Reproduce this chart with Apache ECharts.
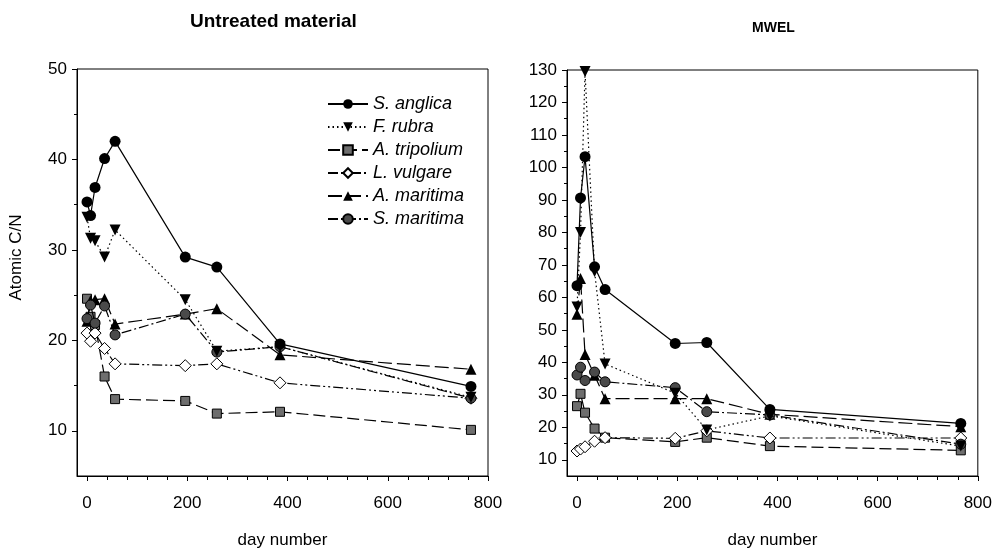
<!DOCTYPE html>
<html lang="en">
<head>
<meta charset="UTF-8">
<title>Atomic C/N</title>
<script src="https://cdn.jsdelivr.net/npm/echarts@6/dist/echarts.min.js"></script>
<style>
    html, body { margin: 0; padding: 0; background: #fff; }
    #chart { width: 995px; height: 554px; }
</style>
</head>
<body>
<div id="chart"></div>
<script>
    // sampling days (x values)
    const days = [0, 7, 16, 35, 56, 196, 259, 385, 766];

    const speciesNames = ['S. anglica', 'F. rubra', 'A. tripolium', 'L. vulgare', 'A. maritima', 'S. maritima'];

    // untreated material, atomic C/N
    const untreatedSAnglica = [35.3, 33.8, 36.9, 40.1, 42.0, 29.2, 28.1, 19.6, 14.9];
    const untreatedFRubra = [33.6, 31.3, 31.0, 29.2, 32.2, 24.5, 18.8, 19.3, 13.7];
    const untreatedATripolium = [24.6, 22.6, 21.7, 16.0, 13.5, 13.3, 11.9, 12.1, 10.1];
    const untreatedLVulgare = [20.8, 19.9, 20.8, 19.1, 17.4, 17.2, 17.4, 15.3, 13.6];
    const untreatedAMaritima = [22.1, 24.4, 24.5, 24.6, 21.8, 22.9, 23.5, 18.4, 16.8];
    const untreatedSMaritima = [22.4, 23.9, 21.9, 23.8, 20.6, 22.9, 18.7, 19.3, 13.6];

    // MWEL, atomic C/N
    const mwelSAnglica = [63.6, 90.6, 103.3, 69.4, 62.4, 45.8, 46.1, 25.5, 21.2];
    const mwelFRubra = [57.0, 80.0, 129.5, 68.0, 39.5, 30.5, 19.2, 23.5, 14.2];
    const mwelATripolium = [26.5, 30.3, 24.5, 19.6, 16.8, 15.5, 16.8, 14.2, 12.9];
    const mwelLVulgare = [12.7, 13.3, 14.0, 15.7, 16.8, 16.6, 18.9, 16.7, 16.7];
    const mwelAMaritima = [54.8, 65.8, 42.4, 36.0, 28.8, 28.8, 28.8, 24.0, 20.2];
    const mwelSMaritima = [36.1, 38.5, 34.4, 37.0, 34.0, 32.2, 24.8, 23.8, 14.8];

    const xTicks = [0, 200, 400, 600, 800];
    const xMinorTicks = [40, 80, 120, 160, 240, 280, 320, 360, 440, 480, 520, 560, 640, 680, 720, 760];
    const leftYTicks = [10, 20, 30, 40, 50];
    const leftYMinor = [15, 25, 35, 45];
    const rightYTicks = [10, 20, 30, 40, 50, 60, 70, 80, 90, 100, 110, 120, 130];
    const rightYMinor = [15, 25, 35, 45, 55, 65, 75, 85, 95, 105, 115, 125];

    const font = 'Liberation Sans, Arial, Helvetica, sans-serif';

    const looks = {
        'S. anglica': {symbol: 'circle', size: 11, fill: '#000', border: 0, dash: 'solid', z: 8},
        'F. rubra': {symbol: 'triangle', size: 11, rotate: 180, fill: '#000', border: 0, dash: [1.5, 3], z: 7},
        'A. tripolium': {symbol: 'rect', size: 9, fill: '#6e6e6e', border: 1, dash: [12, 5], z: 3},
        'L. vulgare': {symbol: 'diamond', size: 12, fill: '#fff', border: 1, dash: [10, 3, 2, 3, 2, 3], z: 4},
        'A. maritima': {symbol: 'triangle', size: 11, fill: '#000', border: 0, dash: [14, 5], z: 5},
        'S. maritima': {symbol: 'circle', size: 10, fill: '#4a4a4a', border: 1, dash: [10, 3, 2, 3], z: 6}
    };

    function makeSeries(name, values, xi, yi) {
        let lk = looks[name];
        return {
            name: name,
            type: 'line',
            xAxisIndex: xi,
            yAxisIndex: yi,
            data: days.map((d, i) => [d, values[i]]),
            symbol: lk.symbol,
            symbolSize: lk.size,
            symbolRotate: lk.rotate || 0,
            clip: false,
            z: lk.z,
            animation: false,
            itemStyle: {color: lk.fill, borderColor: '#000', borderWidth: lk.border},
            lineStyle: {color: '#000', width: 1.2, type: lk.dash}
        };
    }

    function mainX(gi) {
        return {
            type: 'value', gridIndex: gi, min: -20, max: 800, position: 'bottom',
            splitLine: {show: false},
            axisLine: {show: true, onZero: false, lineStyle: {color: '#000', width: 1}},
            axisTick: {show: true, customValues: xTicks, length: 5, lineStyle: {color: '#000'}},
            axisLabel: {customValues: xTicks, color: '#000', fontSize: 17, margin: 19, fontFamily: font},
            name: 'day number', nameLocation: 'middle', nameGap: 56,
            nameTextStyle: {color: '#000', fontSize: 17, fontFamily: font}
        };
    }

    function minorX(gi) {
        return {
            type: 'value', gridIndex: gi, min: -20, max: 800, position: 'bottom',
            splitLine: {show: false}, axisLine: {show: false, onZero: false},
            axisTick: {show: true, customValues: xMinorTicks, length: 4, lineStyle: {color: '#000'}},
            axisLabel: {show: false}
        };
    }

    function mainY(gi, max, ticks, withName) {
        let ax = {
            type: 'value', gridIndex: gi, min: 5, max: max, position: 'left',
            splitLine: {show: false},
            axisLine: {show: true, onZero: false, lineStyle: {color: '#000', width: 1}},
            axisTick: {show: true, customValues: ticks, length: 5, lineStyle: {color: '#000'}},
            axisLabel: {customValues: ticks, color: '#000', fontSize: 17, margin: 10, fontFamily: font}
        };
        if (withName) {
            ax.name = 'Atomic C/N';
            ax.nameLocation = 'middle';
            ax.nameGap = 52;
            ax.nameTextStyle = {color: '#000', fontSize: 17, fontFamily: font, padding: [0, 0, 0, 30]};
        }
        return ax;
    }

    function minorY(gi, max, ticks) {
        return {
            type: 'value', gridIndex: gi, min: 5, max: max, position: 'left',
            splitLine: {show: false}, axisLine: {show: false, onZero: false},
            axisTick: {show: true, customValues: ticks, length: 3, lineStyle: {color: '#000'}},
            axisLabel: {show: false}
        };
    }

    let series = [
        makeSeries('A. tripolium', untreatedATripolium, 0, 0),
        makeSeries('L. vulgare', untreatedLVulgare, 0, 0),
        makeSeries('A. maritima', untreatedAMaritima, 0, 0),
        makeSeries('S. maritima', untreatedSMaritima, 0, 0),
        makeSeries('F. rubra', untreatedFRubra, 0, 0),
        makeSeries('S. anglica', untreatedSAnglica, 0, 0),
        makeSeries('A. tripolium', mwelATripolium, 2, 2),
        makeSeries('L. vulgare', mwelLVulgare, 2, 2),
        makeSeries('A. maritima', mwelAMaritima, 2, 2),
        makeSeries('S. maritima', mwelSMaritima, 2, 2),
        makeSeries('F. rubra', mwelFRubra, 2, 2),
        makeSeries('S. anglica', mwelSAnglica, 2, 2)
    ];

    let option = {
        backgroundColor: '#fff',
        animation: false,
        title: [
            {text: 'Untreated material', left: 185, top: 7,
                textStyle: {color: '#000', fontSize: 19, fontWeight: 'bold', fontFamily: font}},
            {text: 'MWEL', left: 747, top: 16,
                textStyle: {color: '#000', fontSize: 14, fontWeight: 'bold', fontFamily: font}}
        ],
        legend: {
            data: speciesNames,
            orient: 'vertical',
            left: 322,
            top: 90,
            itemWidth: 40,
            itemHeight: 12,
            itemGap: 5,
            textStyle: {color: '#000', fontSize: 18, lineHeight: 18, fontStyle: 'italic', fontFamily: font},
            selectedMode: false
        },
        grid: [
            {left: 77, top: 69, width: 411, height: 411, show: true, borderColor: '#000', borderWidth: 1},
            {left: 567, top: 70, width: 411, height: 412, show: true, borderColor: '#000', borderWidth: 1}
        ],
        xAxis: [mainX(0), minorX(0), mainX(1), minorX(1)],
        yAxis: [
            mainY(0, 50, leftYTicks, true), minorY(0, 50, leftYMinor),
            mainY(1, 130, rightYTicks, false), minorY(1, 130, rightYMinor)
        ],
        series: series
    };

    let chart = echarts.init(document.getElementById('chart'));
    chart.setOption(option);
</script>
</body>
</html>
